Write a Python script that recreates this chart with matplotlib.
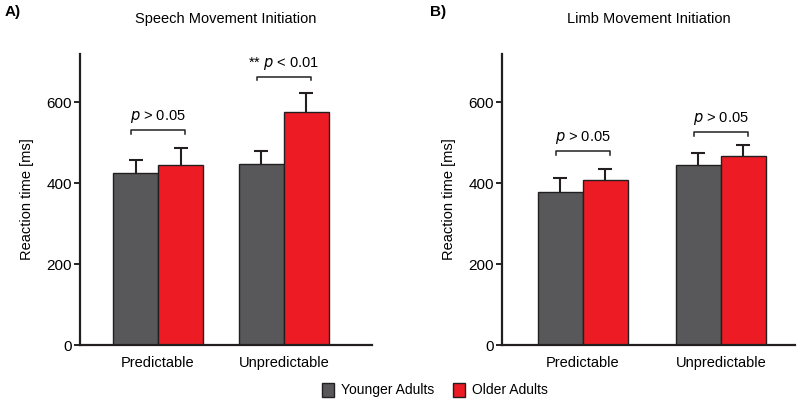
import matplotlib
matplotlib.use("Agg")
import matplotlib.pyplot as plt
from matplotlib.patches import Patch

plt.rcParams['font.family'] = ['Liberation Sans', 'DejaVu Sans']

conditions = ["Predictable", "Unpredictable"]
groups = ["Younger Adults", "Older Adults"]
colors = ["#58585a", "#ed1c24"]

speech_young = [425, 448]
speech_young_err = [33, 33]
speech_old = [446, 576]
speech_old_err = [42, 48]
speech_p = ["$p$ > 0.05", "** $p$ < 0.01"]
speech_bracket = [531, 664]

limb_young = [379, 444]
limb_young_err = [33, 32]
limb_old = [409, 467]
limb_old_err = [26, 27]
limb_p = ["$p$ > 0.05", "$p$ > 0.05"]
limb_bracket = [479, 526]

yticks = [0, 200, 400, 600]

fig = plt.figure(figsize=(8, 4.05), dpi=100)
axA = fig.add_axes([0.1, 0.148, 0.365, 0.719])
axB = fig.add_axes([0.6275, 0.148, 0.3665, 0.719])


def draw(ax, young, yerr, old, oerr, ptexts, brackets, w, xlim, title):
    xs = range(len(conditions))
    for i in xs:
        for j, (vals, errs) in enumerate([(young, yerr), (old, oerr)]):
            xc = i + (j - 0.5) * w
            _, caps, _ = ax.errorbar([xc], [vals[i]], yerr=[[0], [errs[i]]], fmt='none',
                                     ecolor='#231f20', elinewidth=1.5, capsize=4.7,
                                     capthick=1.5, zorder=1)
            caps[0].set_visible(False)
            ax.bar([xc], [vals[i]], width=w, color=colors[j],
                   edgecolor='#231f20', linewidth=1.0, zorder=2)
        x0, x1 = i - 0.6 * w, i + 0.6 * w
        b = brackets[i]
        ax.plot([x0, x0, x1, x1], [b - 9, b, b, b - 9], color='#231f20',
                lw=1.1, clip_on=False)
        ax.text(i, b + 12, ptexts[i], ha='center', va='bottom', fontsize=10.5)
    ax.set_xlim(*xlim)
    ax.set_ylim(0, 720)
    ax.set_yticks(yticks)
    ax.set_xticks(list(xs))
    ax.set_xticklabels(conditions, fontsize=10.5)
    ax.tick_params(axis='x', length=0, pad=8)
    ax.tick_params(axis='y', length=4, width=1.2, labelsize=11, pad=2)
    for s in ['top', 'right']:
        ax.spines[s].set_visible(False)
    for s in ['left', 'bottom']:
        ax.spines[s].set_linewidth(1.6)
        ax.spines[s].set_color('#231f20')
    ax.set_ylabel("Reaction time [ms]", fontsize=10.5, labelpad=9)
    ax.set_title(title, fontsize=10.5, pad=22)


draw(axA, speech_young, speech_young_err, speech_old, speech_old_err,
     speech_p, speech_bracket, 0.357, (-0.62, 1.70), "Speech Movement Initiation")
draw(axB, limb_young, limb_young_err, limb_old, limb_old_err,
     limb_p, limb_bracket, 0.326, (-0.587, 1.54), "Limb Movement Initiation")

fig.text(5 / 800, 1 - 12 / 405, "A)", fontsize=11, fontweight='bold', va='center')
fig.text(430 / 800, 1 - 12 / 405, "B)", fontsize=11, fontweight='bold', va='center')

handles = [Patch(facecolor=c, edgecolor='#231f20', linewidth=1.0) for c in colors]
fig.legend(handles, groups, loc='center', bbox_to_anchor=(435 / 800, 1 - 390 / 405),
           ncol=2, frameon=False, fontsize=10, handlelength=0.9, handleheight=1.2,
           handletextpad=0.5, columnspacing=1.3)

fig.savefig("out.png", dpi=100)
